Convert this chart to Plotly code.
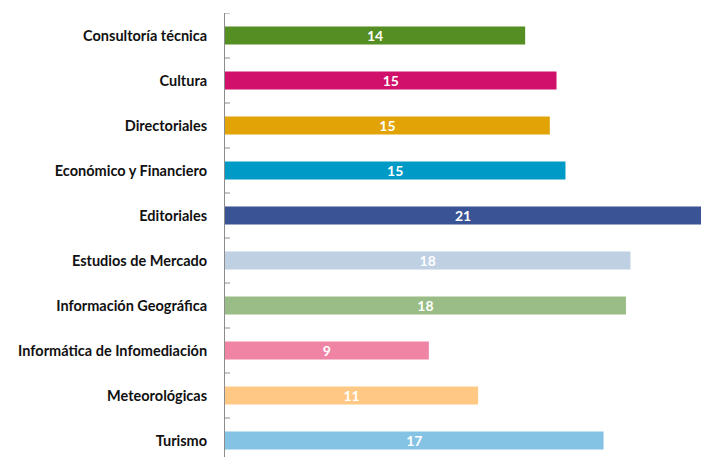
import plotly.graph_objects as go

categories = [
    "Consultoría técnica", "Cultura", "Directoriales", "Económico y Financiero",
    "Editoriales", "Estudios de Mercado", "Información Geográfica",
    "Informática de Infomediación", "Meteorológicas", "Turismo",
]
bar_values = [13.4, 14.8, 14.5, 15.2, 21.25, 18.1, 17.9, 9.1, 11.3, 16.9]
bar_labels = ["14", "15", "15", "15", "21", "18", "18", "9", "11", "17"]
colors = ["#558E23", "#D0106A", "#E2A307", "#009AC7", "#3A5395",
          "#BED0E2", "#9ABC86", "#EF84A5", "#FFC985", "#84C3E4"]

fig = go.Figure(go.Bar(
    x=bar_values, y=categories, orientation="h",
    marker=dict(color=colors, line=dict(width=0)),
    text=bar_labels, textposition="inside", insidetextanchor="middle",
    textangle=0, constraintext="none",
    textfont=dict(family="Lato", size=14, color="white", weight="bold"),
    cliponaxis=True, hoverinfo="skip",
))

n = len(categories)
# crossing tick marks at the category boundaries
for i in range(n + 1):
    fig.add_shape(type="line", xref="x", yref="y", xsizemode="pixel", xanchor=0,
                  x0=-5, x1=5, y0=i - 0.5, y1=i - 0.5,
                  line=dict(color="#8c8c8c", width=1))

# last row runs a little past the bottom edge, like the original
fig.update_yaxes(
    categoryorder="array", categoryarray=categories,
    range=[n - 0.5 - 6 / 45, -0.5],
    showline=True, linecolor="#8c8c8c", linewidth=1,
    ticks="", ticklabelstandoff=14, automargin=False,
    tickfont=dict(family="Lato", size=14.5, color="#111111", weight="bold"),
    showgrid=False, zeroline=False,
)
fig.update_xaxes(range=[0, 21.25], visible=False, showgrid=False,
                 zeroline=False, automargin=False)

fig.update_layout(
    width=701, height=457, bargap=0.6,
    margin=dict(l=225, r=0, t=13, b=0),
    plot_bgcolor="white", paper_bgcolor="white",
    showlegend=False,
)

fig.write_html("out.html", config={"displayModeBar": False},
               post_script="document.body.style.margin='0';")
